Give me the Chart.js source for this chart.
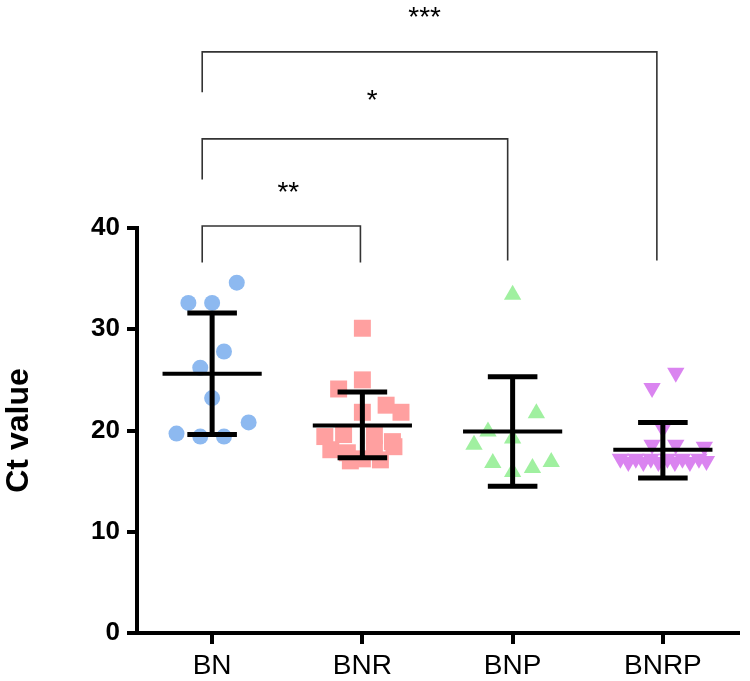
<!DOCTYPE html>
<html>
<head>
<meta charset="utf-8">
<script src="https://cdn.jsdelivr.net/npm/chart.js@4/dist/chart.umd.min.js"></script>
<style>
  body { margin: 0; background: #fff; }
  #wrap { width: 750px; height: 681px; }
</style>
</head>
<body>
<div id="wrap"><canvas id="chart"></canvas></div>
<script>
var categories = ["BN", "BNR", "BNP", "BNRP"];

// individual Ct values (x = group index + jitter)
var bnX = [0.164, -0.158, 0, 0.079, -0.079, 0, 0.243, -0.237, -0.079, 0.079];
var bnY = [34.6, 32.6, 32.6, 27.8, 26.2, 23.2, 20.8, 19.7, 19.4, 19.4];
var bnrX = [1.0, 1.0, 0.842, 1.158, 1.257, 1.0, 0.75, 0.875, 1.08, 1.2, 0.79, 0.9, 1.08, 1.21, 0.92, 1.0, 1.12];
var bnrY = [30.1, 25.0, 24.1, 22.5, 21.8, 21.8, 19.4, 19.6, 19.5, 18.9, 18.1, 17.8, 18.2, 18.4, 17.0, 17.2, 17.1];
var bnpX = [2, 2.158, 1.836, 2, 1.743, 1.868, 2.257, 2.132, 2];
var bnpY = [33.4, 21.7, 19.9, 19.2, 18.6, 16.8, 16.9, 16.3, 15.9];
var bnrpX = [3.086, 2.928, 3, 2.928, 3.086, 3.276, 2.717, 2.77, 2.82, 2.87, 2.92, 2.97, 3.03, 3.08, 3.13, 3.18, 3.24, 3.29];
var bnrpY = [25.7, 24.2, 20.2, 18.6, 18.6, 18.4, 17.2, 16.9, 17.2, 16.9, 17.2, 16.9, 17.2, 16.9, 17.2, 16.9, 17.2, 17.0];

// mean and SD
var means = [25.6, 20.5, 19.9, 18.1];
var sdHigh = [31.6, 23.8, 25.3, 20.8];
var sdLow = [19.6, 17.3, 14.5, 15.3];

// significance brackets (values in axis units, above the 0-40 range)
var brFrom = [-0.066, -0.066, -0.066];
var brTo = [0.987, 1.967, 2.96];
var brTop = [40.2, 48.8, 57.4];
var brLeftEnd = [36.6, 44.8, 53.4];
var brRightEnd = [36.6, 36.8, 36.8];
var brLabel = ["**", "*", "***"];
var brLabelX = [0.507, 1.066, 1.414];
var brLabelY = [42.7, 51.75, 59.95];

function pts(xs, ys) {
  return xs.map(function (x, i) { return { x: x, y: ys[i] }; });
}

var overlay = {
  id: "overlay",
  afterDatasetsDraw: function (chart) {
    var ctx = chart.ctx;
    var xs = chart.scales.x, ys = chart.scales.y;
    ctx.save();
    ctx.strokeStyle = "#000";
    ctx.lineCap = "butt";
    // mean +/- SD
    for (var i = 0; i < means.length; i++) {
      var xc = xs.getPixelForValue(i);
      var hw = xs.getPixelForValue(i + 0.33) - xc;
      var cw = xs.getPixelForValue(i + 0.165) - xc;
      ctx.lineWidth = 5;
      ctx.beginPath();
      ctx.moveTo(xc, ys.getPixelForValue(sdHigh[i]));
      ctx.lineTo(xc, ys.getPixelForValue(sdLow[i]));
      ctx.moveTo(xc - cw, ys.getPixelForValue(sdHigh[i]));
      ctx.lineTo(xc + cw, ys.getPixelForValue(sdHigh[i]));
      ctx.moveTo(xc - cw, ys.getPixelForValue(sdLow[i]));
      ctx.lineTo(xc + cw, ys.getPixelForValue(sdLow[i]));
      ctx.stroke();
      ctx.lineWidth = 4;
      ctx.beginPath();
      ctx.moveTo(xc - hw, ys.getPixelForValue(means[i]));
      ctx.lineTo(xc + hw, ys.getPixelForValue(means[i]));
      ctx.stroke();
    }
    // brackets
    ctx.strokeStyle = "#333";
    ctx.lineWidth = 1.6;
    ctx.fillStyle = "#000";
    ctx.font = "28px 'Liberation Sans', Arial, sans-serif";
    ctx.textAlign = "center";
    ctx.textBaseline = "alphabetic";
    for (var j = 0; j < brFrom.length; j++) {
      var x1 = xs.getPixelForValue(brFrom[j]), x2 = xs.getPixelForValue(brTo[j]);
      ctx.beginPath();
      ctx.moveTo(x1, ys.getPixelForValue(brLeftEnd[j]));
      ctx.lineTo(x1, ys.getPixelForValue(brTop[j]));
      ctx.lineTo(x2, ys.getPixelForValue(brTop[j]));
      ctx.lineTo(x2, ys.getPixelForValue(brRightEnd[j]));
      ctx.stroke();
      ctx.fillText(brLabel[j], xs.getPixelForValue(brLabelX[j]), ys.getPixelForValue(brLabelY[j]));
    }
    ctx.restore();
  }
};

new Chart(document.getElementById("chart"), {
  type: "scatter",
  data: {
    datasets: [
      { label: "BN", data: pts(bnX, bnY), pointStyle: "circle", pointRadius: 8,
        backgroundColor: "rgb(141,185,240)", borderWidth: 0 },
      { label: "BNR", data: pts(bnrX, bnrY), pointStyle: "rect", pointRadius: 12,
        backgroundColor: "rgb(255,160,160)", borderWidth: 0 },
      { label: "BNP", data: pts(bnpX, bnpY), pointStyle: "triangle", pointRadius: 10,
        backgroundColor: "rgb(160,240,160)", borderWidth: 0 },
      { label: "BNRP", data: pts(bnrpX, bnrpY), pointStyle: "triangle", pointRadius: 10, rotation: 180,
        backgroundColor: "rgb(218,132,240)", borderWidth: 0 }
    ]
  },
  options: {
    responsive: true,
    maintainAspectRatio: false,
    animation: false,
    clip: false,
    layout: { padding: { top: 228, right: 5, left: 0, bottom: 0 } },
    plugins: { legend: { display: false }, tooltip: { enabled: false } },
    scales: {
      x: {
        type: "linear",
        min: -0.5,
        max: 3.5,
        afterBuildTicks: function (s) { s.ticks = categories.map(function (c, i) { return { value: i }; }); },
        afterFit: function (s) { s.height = 48; },
        ticks: {
          callback: function (v) { return categories[v]; },
          color: "#000",
          padding: 5,
          maxRotation: 0,
          font: { family: "'Liberation Sans', Arial, sans-serif", size: 28 }
        },
        grid: { drawOnChartArea: false, tickLength: 11, lineWidth: 4, color: "#000" },
        border: { display: true, width: 4, color: "#000" }
      },
      y: {
        min: 0,
        max: 40,
        ticks: {
          stepSize: 10,
          color: "#000",
          padding: 7,
          font: { family: "'Liberation Sans', Arial, sans-serif", size: 26, weight: "bold" }
        },
        afterFit: function (s) { s.width = 137; },
        grid: { drawOnChartArea: false, tickLength: 10, lineWidth: 4, color: "#000" },
        border: { display: true, width: 4, color: "#000" },
        title: {
          display: true,
          text: "Ct value",
          color: "#000",
          padding: { top: 0, bottom: 0 },
          font: { family: "'Liberation Sans', Arial, sans-serif", size: 32, weight: "bold" }
        }
      }
    }
  },
  plugins: [overlay]
});
</script>
</body>
</html>
